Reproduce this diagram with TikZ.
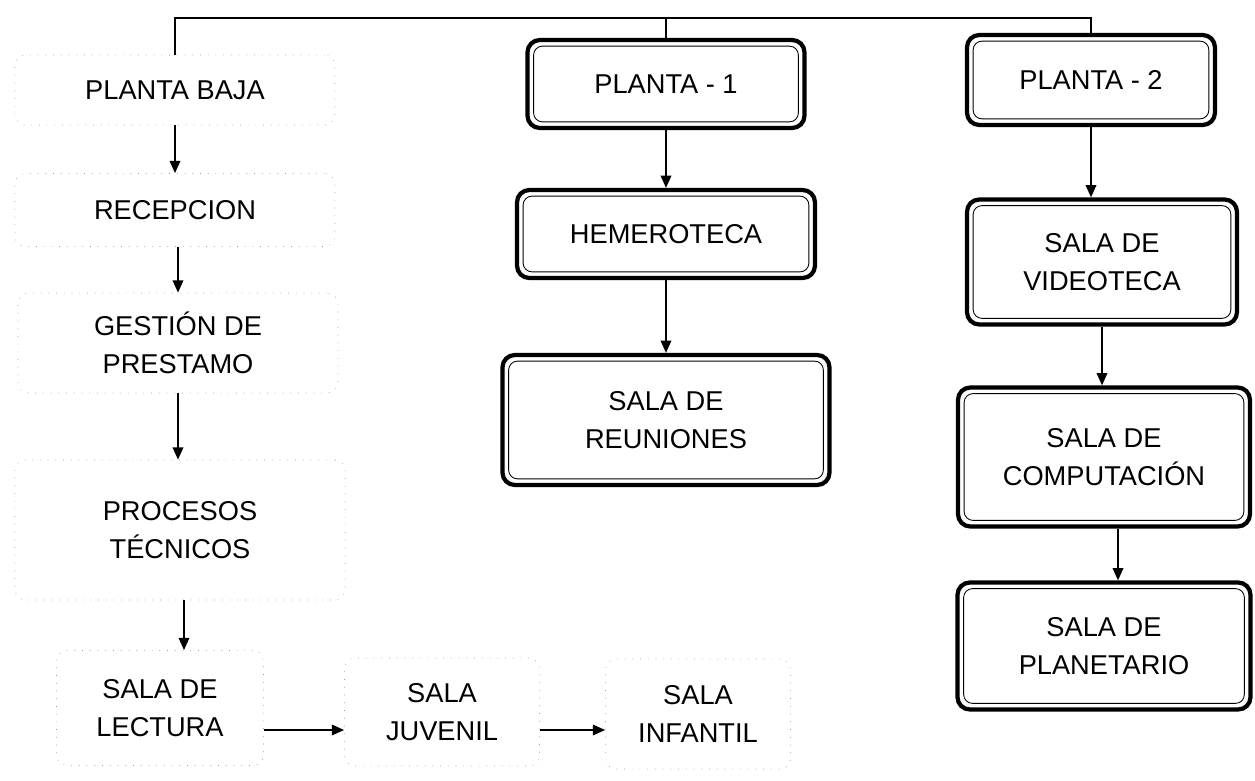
\documentclass[tikz,border=0pt]{standalone}
\usepackage{fontspec}
\setmainfont{Liberation Sans}
\usetikzlibrary{arrows.meta}

\tikzset{
  lbl/.style={align=center, inner sep=0pt, font=\fontsize{15.5}{21.5}\selectfont},
  faintbox/.style={lbl, draw=black!40, loosely dotted, rounded corners=6pt},
  roombox/.style={lbl, draw, line width=2.4pt, rounded corners=7pt,
    path picture={\draw[line width=0.5pt, rounded corners=5pt]
      ([shift={(3.5pt,-3.5pt)}]path picture bounding box.north west) rectangle
      ([shift={(-3.5pt,3.5pt)}]path picture bounding box.south east);}},
  arr/.style={line width=1pt, -{Triangle[length=7pt,width=6pt]}}
}

\begin{document}
\begin{tikzpicture}[x=0.02cm, y=-0.02cm]
  \useasboundingbox (0,0) rectangle (1255,781);

  % planta baja
  \node[faintbox, minimum width=320*0.02cm, minimum height=70*0.02cm] (pb) at (175,90) {PLANTA BAJA};
  \node[faintbox, minimum width=320*0.02cm, minimum height=73*0.02cm] (rec) at (175,210) {RECEPCION};
  \node[faintbox, minimum width=320*0.02cm, minimum height=100*0.02cm] (gest) at (178,343) {GESTIÓN DE\\PRESTAMO};
  \node[faintbox, minimum width=330*0.02cm, minimum height=140*0.02cm] (proc) at (180,530) {PROCESOS\\TÉCNICOS};
  \node[faintbox, minimum width=207*0.02cm, minimum height=115*0.02cm] (lect) at (160,708) {SALA DE\\LECTURA};
  \node[faintbox, minimum width=195*0.02cm, minimum height=108*0.02cm] (juv) at (442,712) {SALA\\JUVENIL};
  \node[faintbox, minimum width=185*0.02cm, minimum height=110*0.02cm] (inf) at (698,714) {SALA\\INFANTIL};

  % planta 1
  \node[roombox, minimum width=277*0.02cm, minimum height=88*0.02cm] (p1) at (666,84) {PLANTA - 1};
  \node[roombox, minimum width=298*0.02cm, minimum height=88*0.02cm] (hem) at (666,234) {HEMEROTECA};
  \node[roombox, minimum width=327*0.02cm, minimum height=130*0.02cm] (reu) at (666,420) {SALA DE\\REUNIONES};

  % planta 2
  \node[roombox, minimum width=248*0.02cm, minimum height=90*0.02cm] (p2) at (1091,80) {PLANTA - 2};
  \node[roombox, minimum width=270*0.02cm, minimum height=125*0.02cm] (vid) at (1102,262) {SALA DE\\VIDEOTECA};
  \node[roombox, minimum width=292*0.02cm, minimum height=139*0.02cm] (comp) at (1104,457) {SALA DE\\COMPUTACIÓN};
  \node[roombox, minimum width=293*0.02cm, minimum height=127*0.02cm] (plan) at (1104,646) {SALA DE\\PLANETARIO};

  \coordinate (top) at (666,18);
  \draw[line width=1pt] (pb.north) |- (top) -| (p2.north);
  \draw[line width=1pt] (top) -- (p1.north);

  \draw[arr] (pb) -- (rec);
  \draw[arr] (rec.south -| gest) -- (gest);
  \draw[arr] (gest) -- (gest |- proc.north);
  \draw[arr] (proc.south -| 184,0) -- (lect.north -| 184,0);
  \draw[arr] ([yshift=-0.44cm]lect.east) -- ([yshift=-0.44cm]lect.east -| juv.west);
  \draw[arr] ([yshift=-0.36cm]juv.east) -- ([yshift=-0.36cm]juv.east -| inf.west);

  \draw[arr] (p1) -- (hem);
  \draw[arr] (hem) -- (reu);

  \draw[arr] (p2) -- (p2 |- vid.north);
  \draw[arr] (vid) -- (vid |- comp.north);
  \draw[arr] (comp.south -| 1118,0) -- (plan.north -| 1118,0);
\end{tikzpicture}
\end{document}
